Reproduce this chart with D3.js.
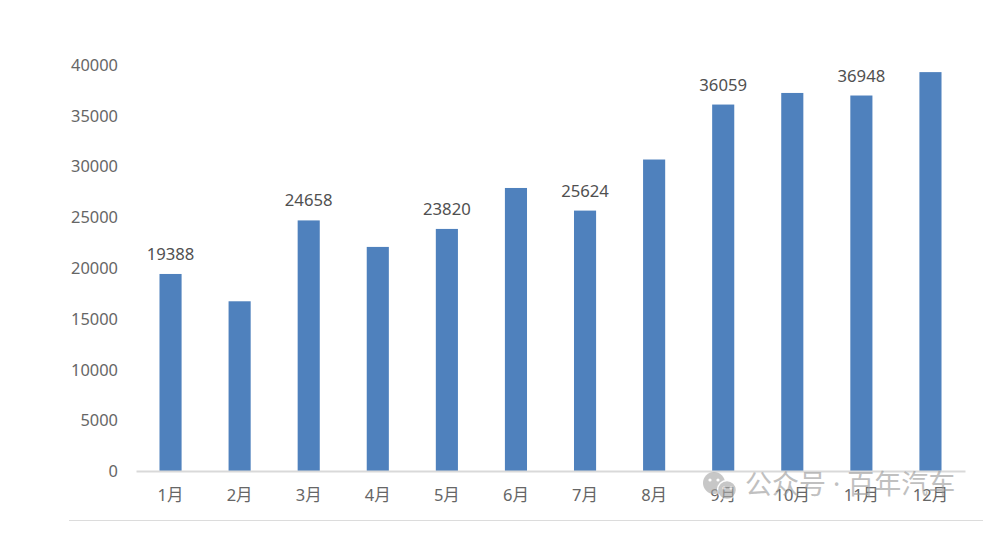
<!DOCTYPE html>
<html><head><meta charset="utf-8">
<script src="https://cdnjs.cloudflare.com/ajax/libs/d3/7.8.5/d3.min.js"></script>
<style>html,body{margin:0;padding:0;background:#fff}svg{display:block}</style></head>
<body><svg id="c" width="1002" height="543"></svg>
<script>
const months=["1月","2月","3月","4月","5月","6月","7月","8月","9月","10月","11月","12月"];
const values=[19388,16700,24658,22050,23820,27850,25624,30650,36059,37200,36948,39250];
const labelled=["1月","3月","5月","7月","9月","11月"];
const yTicks=[0,5000,10000,15000,20000,25000,30000,35000,40000];
const watermark="公众号 · 百年汽车";
const font='"Noto Sans","Noto Sans CJK SC",sans-serif';

const svg=d3.select("#c");
const x=d3.scaleBand().domain(months).range([136,965]).paddingInner(0.68).paddingOuter(0.34);
const y=d3.scaleLinear().domain([0,40000]).range([471,64.5]);

svg.selectAll("rect.bar").data(values).join("rect").attr("class","bar")
  .attr("x",(d,i)=>x(months[i])).attr("width",x.bandwidth())
  .attr("y",d=>y(d)).attr("height",d=>y(0)-y(d)).attr("fill","#4f81bd");

const gx=svg.append("g").attr("transform","translate(0,471)")
  .call(d3.axisBottom(x).tickSize(0).tickPadding(18));
gx.select(".domain").attr("stroke","#d9d9d9").attr("stroke-width",2);
gx.selectAll("text").attr("font-family",font).attr("font-size",16.5).attr("fill","#666666");

const gy=svg.append("g").attr("transform","translate(136,0.5)")
  .call(d3.axisLeft(y).tickValues(yTicks).tickFormat(d3.format("d")).tickSize(0).tickPadding(18));
gy.select(".domain").remove();
gy.selectAll("text").attr("font-family",font).attr("font-size",16.4).attr("fill","#666666");

svg.selectAll("text.lab").data(months.map((m,i)=>({m,v:values[i]})).filter(d=>labelled.includes(d.m)))
  .join("text").attr("class","lab")
  .attr("x",d=>x(d.m)+x.bandwidth()/2).attr("y",d=>y(d.v)-14)
  .attr("text-anchor","middle").attr("font-family",font).attr("font-size",16.7).attr("fill","#505050")
  .text(d=>d.v);

svg.append("line").attr("x1",69).attr("x2",983).attr("y1",520.5).attr("y2",520.5).attr("stroke","#dcdcdc");

// watermark
const wm=svg.append("g").attr("opacity",0.62);
wm.append("circle").attr("cx",714).attr("cy",483).attr("r",11).attr("fill","#a6a6a6");
wm.append("circle").attr("cx",727).attr("cy",490).attr("r",9.5).attr("fill","#a6a6a6").attr("stroke","#fff").attr("stroke-width",1.5);
[[710,480],[718,480],[724,488],[731,488]].forEach(p=>wm.append("circle").attr("cx",p[0]).attr("cy",p[1]).attr("r",1.6).attr("fill","#fff"));
wm.append("text").attr("x",745).attr("y",494).attr("font-family",font).attr("font-size",27).attr("fill","#9a9a9a").text(watermark);
</script></body></html>
